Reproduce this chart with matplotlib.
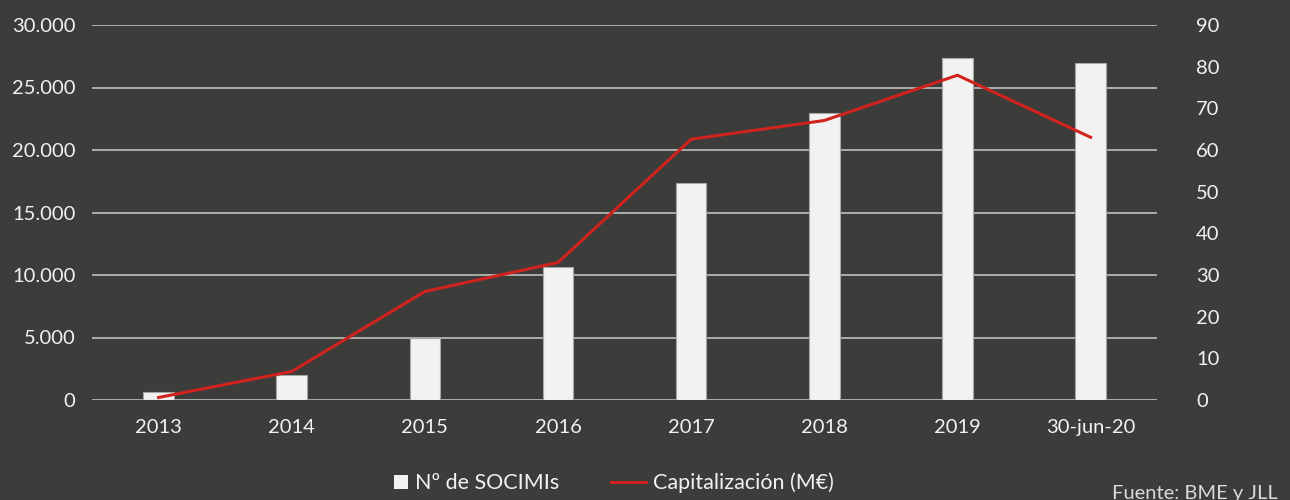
import matplotlib
matplotlib.use("Agg")
import matplotlib.pyplot as plt
from matplotlib.lines import Line2D
from matplotlib.patches import Rectangle, Patch
from matplotlib.legend_handler import HandlerPatch

categories = ["2013", "2014", "2015", "2016", "2017", "2018", "2019", "30-jun-20"]
n_socimis = [2, 6, 15, 32, 52, 69, 82, 81]
capitalizacion = [200, 2280, 8680, 11000, 20860, 22360, 25980, 21020]
left_ticks = [0, 5000, 10000, 15000, 20000, 25000, 30000]
left_labels = ["0", "5.000", "10.000", "15.000", "20.000", "25.000", "30.000"]
right_ticks = list(range(0, 91, 10))

BG = "#3c3c3b"
TXT = "#f2f2f2"
RED = "#d0231e"

plt.rcParams['font.family'] = ['Lato', 'DejaVu Sans']

fig = plt.figure(figsize=(12.9, 5), dpi=100, facecolor=BG)
ax = fig.add_axes([0.0713, 0.2, 0.8257, 0.75])
ax.set_facecolor(BG)
ax2 = ax.twinx()

x = list(range(len(categories)))

ax.set_ylim(0, 30000)
ax.set_yticks(left_ticks)
ax.set_yticklabels(left_labels)
ax.grid(axis='y', color="#bfbfbf", linewidth=1.2)
ax.set_axisbelow(True)
ax.set_xlim(-0.5, len(categories) - 0.5)
ax.set_xticks(x)
ax.set_xticklabels(categories)

ax2.set_ylim(0, 90)
ax2.set_yticks(right_ticks)
ax2.bar(x, n_socimis, width=0.23, color="#f2f2f2", edgecolor="#a6a6a6", linewidth=0.8, zorder=2)

ax3 = ax.twinx()
ax3.set_ylim(0, 30000)
ax3.axis('off')
ax3.plot(x, capitalizacion, color=RED, linewidth=2.2, zorder=3)

for a in (ax, ax2, ax3):
    for s in a.spines.values():
        s.set_visible(False)

ax.tick_params(axis='y', length=0, pad=12, labelsize=14.5, labelcolor=TXT)
ax.tick_params(axis='x', length=0, pad=14, labelsize=14.5, labelcolor=TXT)
ax2.tick_params(axis='y', length=0, pad=28, labelsize=14.5, labelcolor=TXT)


def square_patch(legend, orig_handle, xdescent, ydescent, width, height, fontsize):
    side = 0.66 * fontsize
    return Rectangle((width - side - xdescent, (height - side) / 2 - ydescent), side, side)


handles = [
    Patch(facecolor="#f2f2f2", edgecolor="none"),
    Line2D([], [], color=RED, linewidth=2.2),
]
leg = fig.legend(handles, ["Nº de SOCIMIs", "Capitalización (M€)"], loc='center',
                 bbox_to_anchor=(0.468, 0.034), ncol=2, frameon=False,
                 fontsize=15.5, labelcolor=TXT, handlelength=1.6,
                 handletextpad=0.35, columnspacing=2.4,
                 handler_map={Patch: HandlerPatch(patch_func=square_patch)})

fig.text(0.862, 0.012, "Fuente: BME y JLL", color="#d9d9d9", fontsize=14.5,
         ha='left', va='center')

fig.savefig("out.png", dpi=100, facecolor=BG)
